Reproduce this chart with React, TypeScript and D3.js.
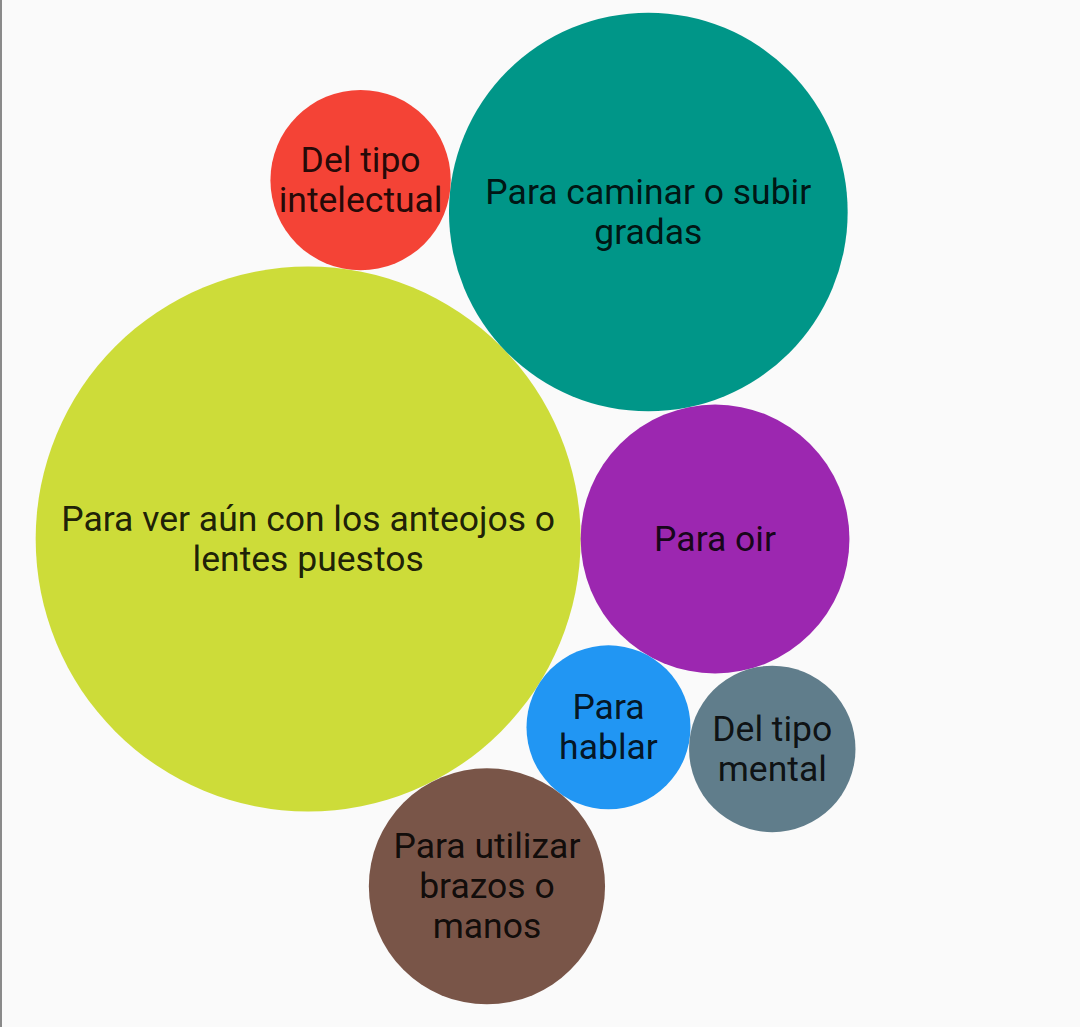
import React, { useMemo } from 'react';
import * as d3 from 'd3';

// categories, in the order the packing places them
const labels = [
  'Para ver aún con los anteojos o lentes puestos',
  'Para oir',
  'Para caminar o subir gradas',
  'Para hablar',
  'Para utilizar brazos o manos',
  'Del tipo intelectual',
  'Del tipo mental',
];
const values = [74.0, 18.0, 39.6, 6.7, 13.9, 8.1, 6.9];
const colors = ['#CDDC39', '#9C27B0', '#009688', '#2196F3', '#795548', '#F44336', '#607D8B'];

const width = 1080;
const height = 1027;
const packW = 1080;
const packH = 1015;
const offsetY = -7;
const fontSize = 35.5;
const lineHeight = 40;
const fontFamily = 'Roboto';

function wrapLabel(label: string, maxWidth: number): string[] {
  const ctx = document.createElement('canvas').getContext('2d')!;
  ctx.font = `${fontSize}px ${fontFamily}`;
  const words = label.split(' ');
  const lines: string[] = [];
  let line = '';
  words.forEach((w) => {
    const test = line ? line + ' ' + w : w;
    if (line && ctx.measureText(test).width > maxWidth) {
      lines.push(line);
      line = w;
    } else {
      line = test;
    }
  });
  if (line) lines.push(line);
  return lines;
}

export default function App() {
  const leaves = useMemo(() => {
    const root = d3
      .hierarchy<any>({ children: labels.map((label, i) => ({ label, value: values[i], color: colors[i] })) })
      .sum((d) => d.value || 0);
    d3.pack<any>().size([packW, packH]).padding(0)(root);
    return root.leaves() as d3.HierarchyCircularNode<any>[];
  }, []);

  const x = d3.scaleLinear().domain([0, packW]).range([0, packW]);
  // pack is drawn upside down, y grows upward
  const y = d3.scaleLinear().domain([0, packH]).range([packH + offsetY, offsetY]);

  return (
    <svg
      width={width}
      height={height}
      style={{ position: 'absolute', left: 0, top: 0, background: '#fafafa' }}
    >
      <line x1={1} x2={1} y1={0} y2={height} stroke="#8a8a8a" strokeWidth={2} />
      {leaves.map((d, i) => {
        const lines = wrapLabel(d.data.label, d.r * 2);
        return (
          <g key={i} transform={`translate(${x(d.x)},${y(d.y)})`}>
            <circle r={d.r} fill={d.data.color} />
            <text
              textAnchor="middle"
              fontFamily={fontFamily}
              fontSize={fontSize}
              fill="rgba(0,0,0,0.87)"
            >
              {lines.map((l, j) => (
                <tspan key={j} x={0} y={(j - (lines.length - 1) / 2) * lineHeight} dominantBaseline="central">
                  {l}
                </tspan>
              ))}
            </text>
          </g>
        );
      })}
    </svg>
  );
}
